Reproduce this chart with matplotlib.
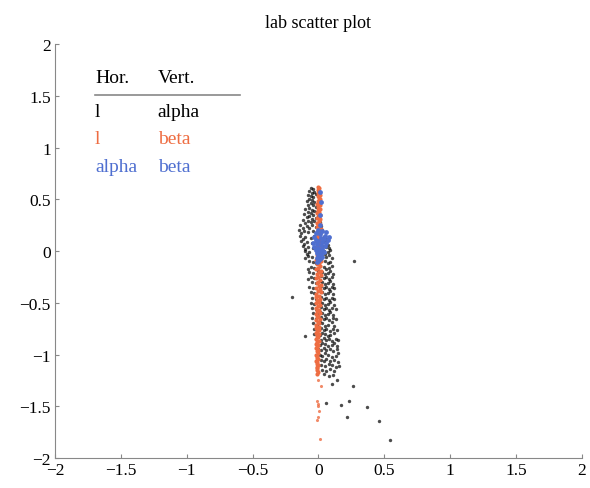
import matplotlib
matplotlib.use("Agg")
import matplotlib.pyplot as plt

plt.rcParams['font.family'] = ['Liberation Serif', 'DejaVu Serif']

# (l, alpha) pairs - black
black_pts = [
    (-0.06, 0.61), (-0.04, 0.60), (-0.07, 0.58), (-0.05, 0.56), (-0.03, 0.57),
    (-0.08, 0.54), (-0.06, 0.53), (-0.04, 0.52), (-0.02, 0.55), (-0.07, 0.50),
    (-0.09, 0.48), (-0.05, 0.49), (-0.03, 0.47), (-0.06, 0.46), (-0.08, 0.44),
    (-0.04, 0.44), (-0.02, 0.43), (-0.07, 0.42), (-0.10, 0.41), (-0.05, 0.40),
    (-0.03, 0.39), (-0.08, 0.38), (-0.06, 0.37), (-0.01, 0.38), (-0.11, 0.36),
    (-0.04, 0.35), (-0.07, 0.34), (-0.09, 0.33), (-0.02, 0.32), (-0.05, 0.31), (0.00, 0.34),
    (-0.12, 0.30), (-0.08, 0.29), (-0.06, 0.28), (-0.03, 0.29), (-0.10, 0.27), (0.01, 0.28),
    (-0.14, 0.25), (-0.09, 0.24), (-0.05, 0.25), (-0.02, 0.23), (-0.07, 0.22), (-0.12, 0.22), (0.02, 0.24),
    (-0.15, 0.20), (-0.11, 0.19), (-0.08, 0.18), (-0.04, 0.19), (-0.01, 0.17), (0.03, 0.20), (-0.13, 0.17),
    (-0.14, 0.15), (-0.10, 0.14), (-0.06, 0.13), (-0.03, 0.15), (0.00, 0.13), (0.04, 0.14), (-0.12, 0.12), (0.06, 0.12),
    (-0.13, 0.10), (-0.09, 0.09), (-0.05, 0.08), (-0.02, 0.10), (0.02, 0.08), (0.05, 0.09), (-0.11, 0.07), (0.07, 0.06),
    (-0.12, 0.05), (-0.08, 0.04), (-0.04, 0.03), (0.03, 0.05), (0.06, 0.04), (0.08, 0.03), (-0.10, 0.02),
    (-0.10, 0.00), (-0.07, -0.01), (0.04, 0.00), (0.07, -0.01), (0.09, 0.01), (-0.09, -0.03), (0.05, -0.03),
    (-0.08, -0.05), (-0.05, -0.06), (0.03, -0.05), (0.06, -0.06), (0.08, -0.04), (0.10, -0.07), (-0.10, -0.07),
    (-0.07, -0.10), (-0.04, -0.11), (0.02, -0.09), (0.05, -0.10), (0.07, -0.12), (0.09, -0.11), (-0.02, -0.12),
    (-0.06, -0.15), (-0.03, -0.16), (0.01, -0.14), (0.04, -0.15), (0.06, -0.17), (0.08, -0.16), (0.10, -0.14), (-0.08, -0.17),
    (-0.07, -0.20), (-0.04, -0.21), (0.00, -0.19), (0.03, -0.20), (0.05, -0.22), (0.07, -0.21), (0.09, -0.19), (0.11, -0.22),
    (-0.06, -0.25), (-0.03, -0.26), (0.02, -0.24), (0.04, -0.26), (0.06, -0.25), (0.08, -0.27), (0.10, -0.25), (-0.08, -0.27),
    (-0.05, -0.30), (-0.02, -0.31), (0.01, -0.29), (0.03, -0.30), (0.05, -0.32), (0.07, -0.31), (0.09, -0.29), (0.11, -0.32),
    (-0.07, -0.35), (-0.04, -0.36), (0.02, -0.34), (0.04, -0.36), (0.06, -0.35), (0.08, -0.37), (0.10, -0.35), (0.12, -0.36),
    (-0.06, -0.40), (-0.03, -0.41), (0.01, -0.39), (0.03, -0.40), (0.05, -0.42), (0.07, -0.41), (0.09, -0.39), (0.11, -0.42),
    (-0.05, -0.45), (-0.02, -0.46), (0.02, -0.44), (0.04, -0.46), (0.06, -0.45), (0.08, -0.47), (0.10, -0.45), (0.12, -0.46),
    (-0.06, -0.50), (-0.03, -0.51), (0.01, -0.49), (0.03, -0.50), (0.05, -0.52), (0.07, -0.51), (0.09, -0.49), (0.12, -0.52),
    (-0.05, -0.55), (-0.02, -0.56), (0.02, -0.54), (0.04, -0.56), (0.06, -0.55), (0.08, -0.57), (0.10, -0.55), (0.13, -0.56),
    (-0.04, -0.60), (-0.01, -0.61), (0.01, -0.59), (0.03, -0.60), (0.05, -0.62), (0.07, -0.61), (0.09, -0.59), (0.11, -0.62),
    (-0.05, -0.65), (-0.02, -0.66), (0.02, -0.64), (0.04, -0.66), (0.06, -0.65), (0.08, -0.67), (0.11, -0.65), (0.13, -0.66),
    (-0.04, -0.70), (-0.01, -0.71), (0.01, -0.69), (0.03, -0.70), (0.05, -0.72), (0.07, -0.71), (0.10, -0.69), (0.12, -0.72),
    (-0.03, -0.75), (0.00, -0.76), (0.02, -0.74), (0.04, -0.76), (0.06, -0.75), (0.09, -0.77), (0.11, -0.75), (0.14, -0.76),
    (-0.03, -0.80), (0.01, -0.81), (0.03, -0.79), (0.05, -0.80), (0.07, -0.82), (0.09, -0.81), (0.12, -0.79), (-0.10, -0.82),
    (-0.02, -0.85), (0.02, -0.86), (0.04, -0.84), (0.06, -0.86), (0.08, -0.85), (0.10, -0.87), (0.13, -0.85), (0.15, -0.86),
    (-0.01, -0.90), (0.01, -0.91), (0.03, -0.89), (0.05, -0.90), (0.07, -0.92), (0.10, -0.91), (0.12, -0.89), (0.14, -0.92),
    (0.00, -0.95), (0.02, -0.96), (0.04, -0.94), (0.06, -0.96), (0.09, -0.95), (0.11, -0.97), (0.14, -0.95),
    (0.01, -1.00), (0.03, -1.01), (0.05, -0.99), (0.07, -1.00), (0.10, -1.02), (0.13, -1.01), (0.15, -0.99),
    (0.02, -1.05), (0.04, -1.06), (0.06, -1.04), (0.09, -1.06), (0.12, -1.05), (0.15, -1.07),
    (0.02, -1.10), (0.05, -1.11), (0.08, -1.09), (0.10, -1.10), (0.13, -1.12), (0.16, -1.11),
    (0.03, -1.15), (0.06, -1.16), (0.09, -1.14), (0.12, -1.16),
    (0.04, -1.19), (0.08, -1.21), (0.11, -1.20),
    (0.27, -0.10), (-0.20, -0.44), (0.26, -1.30), (0.06, -1.47), (0.17, -1.49), (0.23, -1.45),
    (0.37, -1.51), (0.22, -1.60), (0.46, -1.64), (0.54, -1.83), (0.10, -1.28), (0.14, -1.25),
]

# (l, beta) pairs - orange, main band
orange_pts = [
    (0.000, 0.62), (0.008, 0.605), (-0.004, 0.59), (0.006, 0.575), (0.000, 0.56),
    (0.010, 0.545), (-0.006, 0.53), (0.004, 0.515), (0.012, 0.50), (-0.004, 0.485),
    (0.006, 0.47), (-0.008, 0.455), (0.010, 0.44), (0.000, 0.425), (0.014, 0.41),
    (-0.006, 0.395), (0.006, 0.38), (-0.010, 0.365), (0.012, 0.35), (0.002, 0.335),
    (-0.008, 0.32), (0.014, 0.305), (0.004, 0.29), (-0.010, 0.275), (0.010, 0.26),
    (0.000, 0.245), (-0.012, 0.23), (0.016, 0.215), (0.004, 0.20), (-0.008, 0.185),
    (0.012, 0.17), (-0.002, 0.155), (-0.014, 0.14), (0.014, 0.125), (0.004, 0.11),
    (-0.010, 0.095), (0.016, 0.08), (0.000, 0.065), (-0.012, 0.05), (0.010, 0.035),
    (0.002, 0.02), (-0.014, 0.005), (0.016, -0.01), (0.004, -0.025), (-0.010, -0.04),
    (0.012, -0.055), (-0.004, -0.07), (-0.016, -0.085), (0.018, -0.10), (0.004, -0.115),
    (-0.012, -0.13), (0.014, -0.145), (-0.002, -0.16), (-0.018, -0.175), (0.016, -0.19),
    (0.004, -0.205), (-0.012, -0.22), (0.018, -0.235), (-0.004, -0.25), (-0.020, -0.265),
    (0.012, -0.28), (0.000, -0.295), (-0.014, -0.31), (0.018, -0.325), (0.004, -0.34),
    (-0.020, -0.355), (0.010, -0.37), (-0.006, -0.385), (0.016, -0.40), (-0.016, -0.415),
    (0.002, -0.43), (-0.022, -0.445), (0.014, -0.46), (-0.008, -0.475), (0.004, -0.49),
    (-0.018, -0.505), (0.012, -0.52), (-0.004, -0.535), (-0.022, -0.55), (0.008, -0.565),
    (-0.010, -0.58), (0.014, -0.595), (-0.020, -0.61), (0.000, -0.625), (-0.012, -0.64),
    (0.010, -0.655), (-0.022, -0.67), (-0.004, -0.685), (0.008, -0.70), (-0.016, -0.715),
    (0.002, -0.73), (-0.020, -0.745), (0.006, -0.76), (-0.010, -0.775), (-0.022, -0.79),
    (0.004, -0.805), (-0.014, -0.82), (-0.002, -0.835), (-0.020, -0.85), (0.004, -0.865),
    (-0.010, -0.88), (-0.018, -0.895), (0.000, -0.91), (-0.012, -0.925), (-0.020, -0.94),
    (-0.004, -0.955), (-0.014, -0.97), (0.000, -0.985), (-0.018, -1.00), (-0.008, -1.015),
    (-0.014, -1.03), (-0.002, -1.045), (-0.016, -1.06), (-0.008, -1.075), (-0.012, -1.09),
    (-0.004, -1.105), (-0.014, -1.12), (-0.008, -1.135), (-0.012, -1.15), (-0.006, -1.17),
    (-0.010, -1.19),
]

# (l, beta) pairs - orange, stray points below the band
orange_low = [
    (0.00, -1.25), (0.02, -1.30), (-0.01, -1.45), (0.00, -1.48), (-0.005, -1.50),
    (0.005, -1.55), (0.00, -1.60), (-0.01, -1.63), (0.01, -1.82),
]

# (alpha, beta) pairs - blue
blue_pts = [
    (0.00, 0.20), (0.03, 0.19), (0.06, 0.18), (-0.02, 0.17), (0.01, 0.16), (0.05, 0.15),
    (0.08, 0.14), (-0.03, 0.14), (0.02, 0.13), (0.04, 0.12), (0.07, 0.11), (-0.02, 0.11),
    (0.00, 0.10), (0.03, 0.09), (0.06, 0.08), (-0.04, 0.08), (-0.01, 0.07), (0.02, 0.06),
    (0.05, 0.05), (-0.03, 0.04), (0.00, 0.03), (0.03, 0.02), (-0.02, 0.01), (0.01, 0.00),
    (0.04, -0.01), (-0.01, -0.02), (0.02, -0.03), (0.00, -0.05), (0.03, -0.06), (-0.01, -0.07),
    (0.01, -0.08), (0.00, -0.10), (-0.01, -0.11), (0.01, 0.57), (0.02, 0.47), (0.015, 0.35),
    (0.01, 0.25),
]

legend_rows = [("l", "alpha"), ("l", "beta"), ("alpha", "beta")]
tick_vals = [-2, -1.5, -1, -0.5, 0, 0.5, 1, 1.5, 2]
tick_text = ['\u22122', '\u22121.5', '\u22121', '\u22120.5', '0', '0.5', '1', '1.5', '2']

black = "#000000"
orange = "#ee6d42"
blue = "#4f6fd0"

fig = plt.figure(figsize=(5.9, 4.89), dpi=100)
ax = fig.add_axes([0.0932, 0.0613, 0.893, 0.8466])

bx, by = zip(*black_pts)
ox, oy = zip(*orange_pts)
lx, ly = zip(*orange_low)
ux, uy = zip(*blue_pts)
ax.scatter(bx, by, s=6, marker='o', color=black, alpha=0.7, linewidths=0)
ax.scatter(ox, oy, s=9, marker='o', color=orange, alpha=1.0, linewidths=0)
ax.scatter(lx, ly, s=5, marker='o', color=orange, alpha=0.8, linewidths=0)
ax.scatter(ux, uy, s=12, marker='o', color=blue, alpha=1.0, linewidths=0)

ax.set_xlim(-2, 2)
ax.set_ylim(-2, 2)
ax.set_xticks(tick_vals)
ax.set_yticks(tick_vals)
ax.set_xticklabels(tick_text)
ax.set_yticklabels(tick_text)
ax.tick_params(direction='in', length=3, color='#888888', labelsize=12.5, pad=3)
for side in ['top', 'right']:
    ax.spines[side].set_visible(False)
for side in ['left', 'bottom']:
    ax.spines[side].set_color('#888888')

ax.set_title('lab scatter plot', fontsize=13, pad=12)

# legend table
ax.text(0.076, 0.920, 'Hor.', transform=ax.transAxes, fontsize=14, va='center')
ax.text(0.195, 0.920, 'Vert.', transform=ax.transAxes, fontsize=14, va='center')
ax.plot([0.076, 0.351], [0.877, 0.877], transform=ax.transAxes, color='#888888', lw=1.2)
row_y = [0.838, 0.773, 0.703]
row_colors = [black, orange, blue]
for (h, v), yy, c in zip(legend_rows, row_y, row_colors):
    ax.text(0.076, yy, h, transform=ax.transAxes, fontsize=14, va='center', color=c)
    ax.text(0.195, yy, v, transform=ax.transAxes, fontsize=14, va='center', color=c)

fig.savefig('out.png', dpi=100)
